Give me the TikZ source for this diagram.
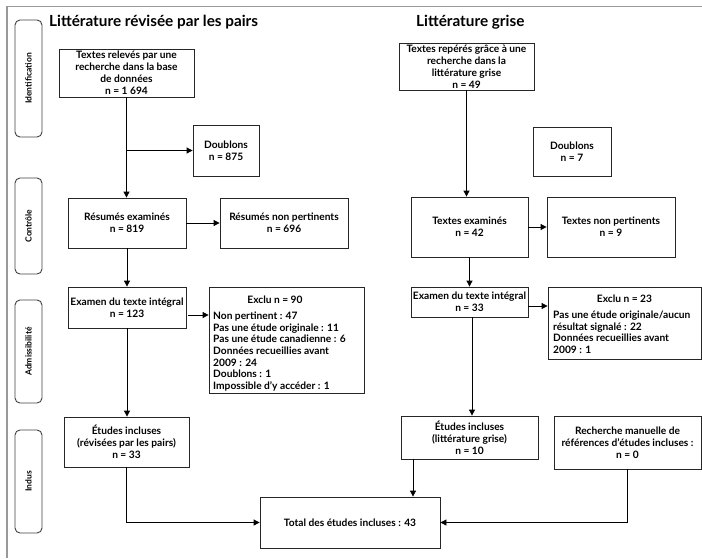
\documentclass[tikz,border=0pt]{standalone}
\usepackage{fontspec}
\setmainfont{Lato}
\usetikzlibrary{arrows.meta,calc}
\begin{document}
\begin{tikzpicture}[x=1pt,y=-1pt,
  box/.style={draw=black!85, line width=0.8pt, align=center, inner sep=1pt,
    font=\bfseries\fontsize{10.2}{12}\selectfont},
  plain/.style={align=left, inner sep=0pt, font=\bfseries\fontsize{10.2}{11.6}\selectfont},
  stage/.style={draw=black!75, line width=0.9pt, rounded corners=5pt, rotate=90,
    minimum height=27pt, inner sep=0pt, font=\bfseries\fontsize{8.5}{10}\selectfont},
  arr/.style={-{Triangle[length=6pt,width=6pt]}, line width=0.8pt},
  head/.style={inner sep=0pt, font=\bfseries\fontsize{15.3}{18}\selectfont},
  frame/.style={draw=black!40, line width=1.3pt}]
\useasboundingbox (0,0) rectangle (702,558);
\draw[frame] (702,6.5) -- (7,6.5) -- (7,558);

% stage labels
\node[stage, minimum width=117pt] (s1) at (28.5,78.5) {Identification};
\node[stage, minimum width=96pt]  (s2) at (28.5,226) {Contrôle};
\node[stage, minimum width=103pt] (s3) at (28.5,351.5) {Admissibilité};
\node[stage, minimum width=103pt] (s4) at (28.5,481.5) {Indus};

% headings
\node[head, anchor=west] (h1) at (49,22) {Littérature révisée par les pairs};
\node[head, anchor=west] (h2) at (416,22) {Littérature grise};

% left column
\node[box, minimum width=135pt, minimum height=48pt] (a1) at (126.5,73)
  {Textes relevés par une\\recherche dans la base\\de données\\n = 1 694};
\node[box, minimum width=66pt, minimum height=51pt] (dl) at (226,150.5)
  {Doublons\\n = 875};
\node[box, minimum width=118pt, minimum height=50pt] (r1) at (127,223)
  {Résumés examinés\\n = 819};
\node[box, minimum width=128pt, minimum height=50pt] (rn) at (284,223)
  {Résumés non pertinents\\n = 696};
\node[box, minimum width=118pt, minimum height=41pt] (e1) at (127,307.5)
  {Examen du texte intégral\\n = 123};
\node[box, minimum width=155pt, minimum height=106pt] (x1) at (286.5,340) {};
\node[plain, anchor=center] (x1h) at (275,300) {Exclu n = 90};
\node[plain, anchor=north west] (x1t) at (213,312)
  {Non pertinent : 47\\Pas une étude originale : 11\\Pas une étude canadienne : 6\\Données recueillies avant\\2009 : 24\\Doublons : 1\\Impossible d’y accéder : 1};
\node[box, minimum width=125pt, minimum height=50pt] (i1) at (126.5,442)
  {Études incluses\\(révisées par les pairs)\\n = 33};
\node[box, minimum width=180pt, minimum height=51pt] (tot) at (350,522.5)
  {Total des études incluses : 43};

% right column
\node[box, minimum width=135pt, minimum height=47pt] (a2) at (466.5,66.5)
  {Textes repérés grâce à une\\recherche dans la\\littérature grise\\n = 49};
\node[box, minimum width=78pt, minimum height=49pt] (dr) at (572,151.5)
  {Doublons\\n = 7};
\node[box, minimum width=117pt, minimum height=60pt] (t2) at (469.5,227)
  {Textes examinés\\n = 42};
\node[box, minimum width=128pt, minimum height=60pt] (tn) at (611,227)
  {Textes non pertinents\\n = 9};
\node[box, minimum width=117pt, minimum height=30pt] (e2) at (469.5,302)
  {Examen du texte intégral\\n = 33};
\node[box, minimum width=153pt, minimum height=72pt] (x2) at (624.5,323) {};
\node[plain, anchor=center] (x2h) at (624.5,299) {Exclu n = 23};
\node[plain, anchor=north west] (x2t) at (553,311)
  {Pas une étude originale/aucun\\résultat signalé : 22\\Données recueillies avant\\2009 : 1};
\node[box, minimum width=137pt, minimum height=43pt] (i2) at (469.5,437.5)
  {Études incluses\\(littérature grise)\\n = 10};
\node[box, minimum width=147pt, minimum height=53pt] (rm) at (627.5,442.5)
  {Recherche manuelle de\\références d’études incluses :\\n = 0};

% connectors left
\draw[arr] (a1.south) -- (a1.south |- r1.north);
\draw[arr] (a1.south |- dl.west) -- (dl.west);
\draw[arr] (r1.east) -- (rn.west);
\draw[arr] (r1.south) -- (r1.south |- e1.north);
\draw[arr] ([xshift=2pt,yshift=-7.5pt]e1.east) -- ([yshift=-7.5pt]e1.east -| x1.west);
\draw[arr] (e1.south) -- (e1.south |- i1.north);
\draw[arr] (i1.south) |- (tot.west);

% connectors right
\draw[arr] (a2.south) -- (a2.south |- t2.north);
\draw[arr] (t2.east) -- (tn.west);
\draw[arr] (t2.south) -- (t2.south |- e2.north);
\draw[arr] ([yshift=-4pt]e2.east) -- ([yshift=-4pt]e2.east -| x2.west);
\draw[arr] ([xshift=2.5pt]e2.south) -- ([xshift=2.5pt]e2.south |- i2.north);
\draw[arr] ([xshift=-56.5pt]i2.south) -- ([xshift=-56.5pt]i2.south |- tot.north);
\draw[arr] (rm.south) |- (tot.east);
\end{tikzpicture}
\end{document}
